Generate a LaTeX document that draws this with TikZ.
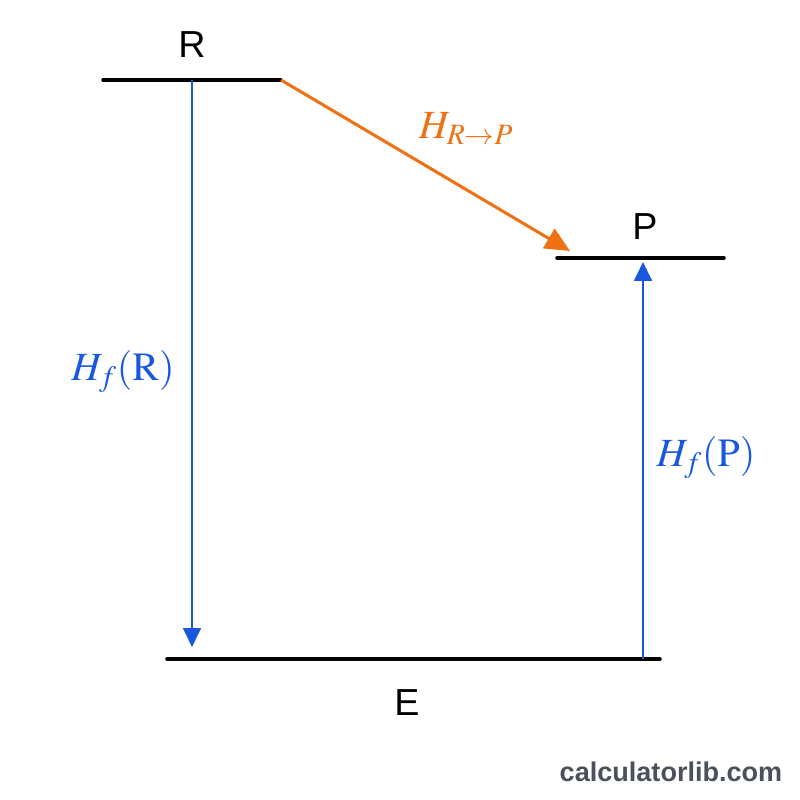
\documentclass[tikz,border=0pt]{standalone}
\usepackage{mathptmx}
\usepackage[no-math]{fontspec}
\setmainfont{Liberation Sans}
\usetikzlibrary{positioning,calc,arrows.meta}
\tikzset{>={Triangle[length=16pt,width=15pt]}}
\definecolor{hblue}{RGB}{24,88,222}
\definecolor{horange}{RGB}{240,112,20}
\definecolor{wmark}{RGB}{74,80,92}
\tikzset{
  level/.style={line width=3pt,line cap=round},
  hf/.style={hblue,line width=2pt},
  lbl/.style={font=\fontsize{32}{36}\selectfont},
}
\newcommand*{\hlab}[1]{\fontsize{34}{38}\selectfont$#1$}

\begin{document}
\begin{tikzpicture}[x=0.85pt,y=-0.85pt]
\useasboundingbox (0,0) rectangle (800,800);
\coordinate (Rl) at (103,80);
\coordinate (Rr) at (281,80);
\coordinate (Pl) at (557,258);
\coordinate (Pr) at (724,258);
\coordinate (El) at (167,659);
\coordinate (Er) at (660,659);
\coordinate (Rd) at (192,80);
\coordinate (Rt) at (192,647);
\coordinate (Pb) at (643,659);
\coordinate (Pt) at (643,262);
\coordinate (Ot) at (570,251);
\draw[level] (Rl) -- (Rr);
\draw[level] (Pl) -- (Pr);
\draw[level] (El) -- (Er);
\node[lbl] (R) at (192,45) {R};
\node[lbl] (P) at (645,227) {P};
\node[lbl] (E) at (407,703) {E};
\draw[->,hf] (Rd) -- (Rt);
\draw[->,hf] (Pb) -- (Pt);
\draw[->,horange,line width=2.6pt,>={Triangle[length=21pt,width=19pt]}] (Rr) -- (Ot);
\node[hblue] (hfr) at (123,372) {\hlab{H_f(\mathrm{R})}};
\node[hblue] (hfp) at (706,458) {\hlab{H_f(\mathrm{P})}};
\node[horange] (hrp) at (466,129) {\hlab{H_{R\to P}}};
\node[wmark,font=\fontsize{23}{26}\selectfont\bfseries] (wm) at (671,772) {calculatorlib.com};
\end{tikzpicture}
\end{document}
